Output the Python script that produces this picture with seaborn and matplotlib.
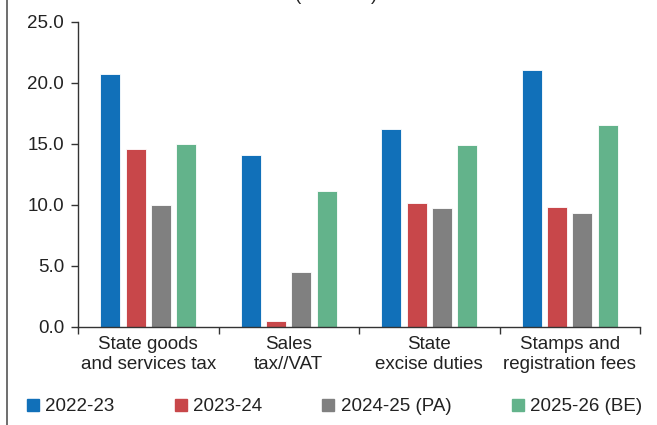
import matplotlib
matplotlib.use("Agg")
import matplotlib.pyplot as plt
from matplotlib.lines import Line2D
import seaborn as sns
import pandas as pd

categories = ["State goods\nand services tax", "Sales\ntax//VAT",
              "State\nexcise duties", "Stamps and\nregistration fees"]
periods = ["2022-23", "2023-24", "2024-25 (PA)", "2025-26 (BE)"]
v_2022_23 = [20.7, 14.1, 16.2, 21.0]
v_2023_24 = [14.6, 0.5, 10.1, 9.8]
v_2024_25 = [10.0, 4.5, 9.7, 9.3]
v_2025_26 = [15.0, 11.1, 14.9, 16.5]
colors = ["#1170b9", "#c8474a", "#808080", "#63b38b"]

rows = []
for period, vals in zip(periods, [v_2022_23, v_2023_24, v_2024_25, v_2025_26]):
    for cat, v in zip(categories, vals):
        rows.append({"category": cat, "period": period, "value": v})
df = pd.DataFrame(rows)

sns.set_style("ticks")
plt.rcParams["font.family"] = ["Liberation Sans", "DejaVu Sans"]
FS = 13.5
ink = "#222222"

fig = plt.figure(figsize=(6.57, 4.25), dpi=100)
ax = fig.add_axes([78 / 657, 1 - 326.7 / 425, (640 - 78) / 657, 305 / 425])

sns.barplot(data=df, x="category", y="value", hue="period", order=categories,
            hue_order=periods, palette=colors, width=0.72, gap=0.21,
            edgecolor="white", linewidth=0.6, saturation=1, legend=False, ax=ax)

ax.set_ylim(0, 25)
ax.set_xlim(-0.5, 3.5)
ax.set_yticks([0, 5, 10, 15, 20, 25])
ax.set_yticklabels([f"{t:.1f}" for t in [0, 5, 10, 15, 20, 25]])
ax.set_xticks([-0.5, 0.5, 1.5, 2.5, 3.5])
ax.set_xticklabels([])
ax.set_xticks([0, 1, 2, 3], minor=True)
ax.set_xticklabels(categories, minor=True, fontsize=FS, color=ink, linespacing=1.22)
ax.tick_params(axis="x", which="minor", length=0, pad=7)
ax.tick_params(axis="x", which="major", length=5, width=1, color="#333333", direction="out")
ax.tick_params(axis="y", length=5, width=1, color="#333333", labelsize=FS, labelcolor=ink, pad=5)
ax.set_xlabel("")
ax.set_ylabel("")
for side in ["top", "right"]:
    ax.spines[side].set_visible(False)
for side in ["left", "bottom"]:
    ax.spines[side].set_color("#333333")
    ax.spines[side].set_linewidth(1)

handles = [Line2D([], [], marker="s", linestyle="none", markersize=8.5,
                  markerfacecolor=c, markeredgecolor=c) for c in colors]
fig.legend(handles, periods, loc="center left", bbox_to_anchor=(26 / 657, 1 - 406.5 / 425),
           ncol=4, frameon=False, fontsize=FS, handlelength=0.7, handletextpad=0.3,
           columnspacing=3.2, borderpad=0, borderaxespad=0, labelcolor=ink)

fig.text(336 / 657, 1.0, "(Per cent)", ha="center", va="baseline",
         fontsize=FS, color=ink)
fig.add_artist(Line2D([7 / 657, 7 / 657], [0, 1], transform=fig.transFigure,
                      color="#555555", linewidth=1.2))

fig.savefig("out.png", dpi=100)
